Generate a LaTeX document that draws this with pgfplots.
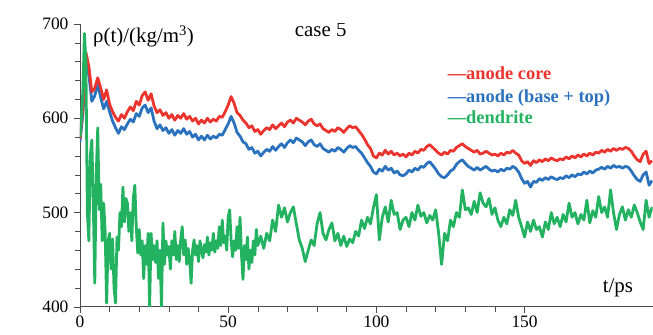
\documentclass[border=0pt]{standalone}
\usepackage{pgfplots}
\pgfplotsset{compat=1.18}
\usepackage{fontspec}
\setmainfont{Liberation Serif}
\definecolor{cred}{RGB}{236,52,46}
\definecolor{cblue}{RGB}{42,114,190}
\definecolor{cgreen}{RGB}{34,178,96}
\begin{document}
\begin{tikzpicture}
\begin{axis}[
  scale only axis, width=573bp, height=283bp,
  xmin=0, xmax=193.2, ymin=400, ymax=700,
  axis x line=bottom, axis y line=left,
  axis line style={-, black!70, line width=0.7bp},
  xtick={0,50,100,150}, ytick={400,500,600,700},
  xticklabels={0,50,100,150}, yticklabels={400,500,600,700},
  minor x tick num=4, minor y tick num=4,
  tick align=outside, major tick length=6bp, minor tick length=5bp,
  tick style={black!70, line width=0.6bp},
  tick label style={font=\fontsize{17.5}{20}\selectfont},
  yticklabel style={xshift=-2bp},
  clip=true,
  every axis plot/.append style={line width=2.8bp, line join=round},
]
\addplot[cblue] coordinates {
(0,575)(1,605)(2,662)(3,646)(4,618)(5,624)(6,636)(7,622)(8,610)(9,618)(10,607)(11,597)(12,590)(13,584)(14,591)(15,588)(16,594)(17,599)(18,596)(19,605)(20,602)(21,611)(22,614)(23,606)(24,611)(25,597)(26,589)(27,593)(28,587)(29,590)(30,584)(31,588)(32,582)(33,587)(34,584)(35,589)(36,583)(37,586)(38,580)(39,583)(40,577)(41,581)(42,577)(43,582)(44,578)(45,581)(46,579)(47,583)(48,582)(49,588)(50,594)(51,602)(52,595)(53,585)(54,581)(55,575)(56,573)(57,567)(58,569)(59,563)(60,565)(61,560)(62,564)(63,567)(64,565)(65,570)(66,566)(67,570)(68,573)(69,569)(70,574)(71,577)(72,574)(73,579)(74,577)(75,575)(76,571)(77,575)(78,577)(79,572)(80,570)(81,573)(82,568)(83,566)(84,564)(85,567)(86,565)(87,569)(88,567)(89,564)(90,568)(91,571)(92,569)(93,570)(94,566)(95,563)(96,558)(97,553)(98,549)(99,543)(100,541)(101,546)(102,544)(103,549)(104,545)(105,547)(106,542)(107,544)(108,540)(109,539)(110,541)(111,545)(112,543)(113,547)(114,545)(115,549)(116,548)(117,552)(118,554)(119,550)(120,546)(121,541)(122,538)(123,537)(124,540)(125,544)(126,546)(127,551)(128,554)(129,556)(130,552)(131,549)(132,547)(133,545)(134,548)(135,545)(136,547)(137,549)(138,546)(139,544)(140,545)(141,543)(142,546)(143,544)(144,547)(145,546)(146,549)(147,547)(148,543)(149,536)(150,531)(151,533)(152,527)(153,533)(154,532)(155,536)(156,534)(157,537)(158,535)(159,538)(160,536)(161,535)(162,537)(163,536)(164,539)(165,537)(166,540)(167,538)(168,541)(169,540)(170,543)(171,541)(172,544)(173,542)(174,545)(175,546)(176,548)(177,546)(178,549)(179,547)(180,550)(181,548)(182,549)(183,547)(184,549)(185,548)(186,544)(187,539)(188,535)(189,533)(190,540)(191,543)(192,529)(193,534)
};
\addplot[cred] coordinates {
(0,578)(1,612)(2,670)(3,655)(4,628)(5,632)(6,643)(7,632)(8,620)(9,630)(10,615)(11,607)(12,601)(13,597)(14,604)(15,600)(16,607)(17,612)(18,608)(19,618)(20,614)(21,624)(22,628)(23,619)(24,626)(25,613)(26,606)(27,609)(28,603)(29,606)(30,600)(31,604)(32,598)(33,603)(34,600)(35,605)(36,599)(37,602)(38,597)(39,600)(40,594)(41,598)(42,595)(43,600)(44,596)(45,599)(46,597)(47,602)(48,601)(49,607)(50,614)(51,623)(52,616)(53,606)(54,603)(55,598)(56,595)(57,590)(58,592)(59,586)(60,588)(61,583)(62,587)(63,590)(64,588)(65,593)(66,589)(67,592)(68,595)(69,591)(70,596)(71,598)(72,595)(73,600)(74,598)(75,596)(76,593)(77,597)(78,599)(79,594)(80,592)(81,594)(82,589)(83,587)(84,585)(85,588)(86,586)(87,590)(88,588)(89,585)(90,589)(91,592)(92,590)(93,591)(94,587)(95,583)(96,578)(97,572)(98,568)(99,560)(100,558)(101,563)(102,561)(103,566)(104,562)(105,565)(106,561)(107,563)(108,560)(109,562)(110,559)(111,563)(112,561)(113,565)(114,563)(115,567)(116,566)(117,570)(118,572)(119,569)(120,566)(121,563)(122,561)(123,564)(124,562)(125,566)(126,565)(127,569)(128,571)(129,573)(130,570)(131,568)(132,566)(133,564)(134,566)(135,562)(136,563)(137,565)(138,563)(139,561)(140,562)(141,560)(142,563)(143,561)(144,564)(145,563)(146,566)(147,563)(148,561)(149,555)(150,552)(151,554)(152,550)(153,555)(154,553)(155,556)(156,554)(157,557)(158,555)(159,558)(160,556)(161,555)(162,557)(163,556)(164,559)(165,557)(166,560)(167,558)(168,561)(169,559)(170,562)(171,560)(172,563)(173,561)(174,564)(175,563)(176,566)(177,564)(178,567)(179,565)(180,568)(181,566)(182,568)(183,567)(184,569)(185,568)(186,565)(187,560)(188,556)(189,554)(190,562)(191,565)(192,552)(193,555)
};
\addplot[cgreen] coordinates {
(0,580)(0.5,600)(1,630)(1.5,690)(2,660)(2.5,500)(3,470)(3.5,560)(4,577)(4.5,510)(5,425)(5.5,540)(6,590)(6.5,503)(7,530)(7.5,470)(8,510)(8.5,480)(9,404)(9.5,470)(10,478)(10.5,440)(11,472)(11.5,420)(12,404)(12.5,474)(13,460)(13.5,500)(14,485)(14.5,527)(15,490)(15.5,515)(16,510)(16.5,480)(17,500)(17.5,470)(18,515)(18.5,529)(19,485)(19.5,457)(20,482)(20.5,455)(21,470)(21.5,430)(22,465)(22.5,445)(23,478)(23.5,400)(24,478)(24.5,450)(25,465)(25.5,447)(26,470)(26.5,430)(27,460)(27.5,400)(28,489)(28.5,445)(29,470)(29.5,455)(30,464)(30.5,440)(31,470)(31.5,455)(32,480)(32.5,450)(33,465)(33.5,448)(34,472)(34.5,485)(35,455)(35.5,471)(36,445)(36.5,462)(37,450)(37.5,425)(38,460)(38.5,471)(39,455)(39.5,465)(40,448)(40.5,470)(41,460)(41.5,452)(42,466)(42.5,458)(43,474)(43.5,455)(44,468)(44.5,460)(45,478)(45.5,458)(46,470)(46.5,462)(47,485)(47.5,465)(48,492)(48.5,468)(49,475)(49.5,460)(50,495)(50.5,503)(51,470)(51.5,453)(52,470)(52.5,460)(53,485)(53.5,462)(54,495)(54.5,455)(55,429)(55.5,465)(56,450)(56.5,474)(57,440)(57.5,460)(58,447)(58.5,470)(59,455)(59.5,482)(60,465)
(61,475)(62,462)(63,478)(64,470)(65,492)(66,480)(67,508)(68,495)(69,505)(70,490)(71,500)(72,506)(73,488)(74,471)(75,462)(76,448)(77,460)(78,471)(79,465)(80,488)(81,500)(82,478)(83,471)(84,482)(85,489)(86,470)(87,478)(88,465)(89,475)(90,464)(91,472)(92,468)(93,480)(94,475)(95,492)(96,483)(97,495)(98,488)(99,505)(100,519)(101,471)(102,495)(103,506)(104,490)(105,513)(106,498)(107,500)(108,482)(109,492)(110,495)(111,485)(112,500)(113,492)(114,508)(115,496)(116,500)(117,489)(118,497)(119,492)(120,503)(121,478)(122,445)(123,478)(124,470)(125,492)(126,485)(127,500)(128,495)(129,524)(130,503)(131,505)(132,498)(133,512)(134,500)(135,521)(136,510)(137,506)(138,515)(139,498)(140,505)(141,492)(142,485)(143,495)(144,488)(145,503)(146,497)(147,513)(148,495)(149,485)(150,474)(151,490)(152,480)(153,492)(154,482)(155,485)(156,474)(157,490)(158,482)(159,500)(160,488)(161,495)(162,485)(163,498)(164,490)(165,510)(166,495)(167,500)(168,488)(169,498)(170,492)(171,513)(172,489)(173,502)(174,495)(175,517)(176,500)(177,506)(178,495)(179,524)(180,500)(181,482)(182,498)(183,506)(184,492)(185,503)(186,495)(187,508)(188,500)(189,490)(190,482)(191,513)(192,495)(193,506)
};
\node[anchor=base west, font=\fontsize{21}{24}\selectfont, inner sep=0pt] at (rel axis cs:0.0227,0.933) {ρ(t)/(kg/m\textsuperscript{3})};
\node[anchor=base west, font=\fontsize{21}{24}\selectfont, inner sep=0pt] at (rel axis cs:0.375,0.954) {case 5};
\node[anchor=base west, font=\fontsize{21}{24}\selectfont, inner sep=0pt] at (rel axis cs:0.9127,0.0495) {t/ps};
\node[anchor=base west, font=\fontsize{18.5}{22}\selectfont\bfseries, text=cred, inner sep=0pt] at (rel axis cs:0.642,0.802) {—anode core};
\node[anchor=base west, font=\fontsize{18.5}{22}\selectfont\bfseries, text=cblue, inner sep=0pt] at (rel axis cs:0.642,0.724) {—anode (base + top)};
\node[anchor=base west, font=\fontsize{18.5}{22}\selectfont\bfseries, text=cgreen, inner sep=0pt] at (rel axis cs:0.642,0.647) {—dendrite};
\end{axis}
\path ([xshift=-80bp,yshift=-28bp]current axis.south west) rectangle ([yshift=24bp]current axis.north east);
\end{tikzpicture}
\end{document}
